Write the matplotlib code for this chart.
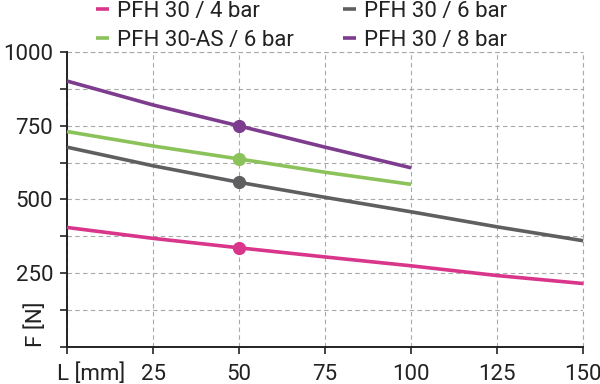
import matplotlib
matplotlib.use("Agg")
import matplotlib.pyplot as plt

plt.rcParams['font.family'] = ['Roboto', 'DejaVu Sans']

# ---- data ----
stroke = [0, 25, 50, 75, 100, 125, 150]
force_4bar = [405, 368, 336, 305, 275, 242, 215]
force_6bar = [677, 614, 558, 507, 458, 407, 360]
stroke_short = [0, 25, 50, 75, 100]
force_as_6bar = [730, 681, 637, 592, 551]
force_8bar = [901, 820, 749, 677, 607]
mark_x = 50

series = [
    ("PFH 30 / 4 bar", stroke, force_4bar, "#D8358B"),
    ("PFH 30-AS / 6 bar", stroke_short, force_as_6bar, "#8CC25A"),
    ("PFH 30 / 6 bar", stroke, force_6bar, "#5F5F61"),
    ("PFH 30 / 8 bar", stroke_short, force_8bar, "#7D3C8E"),
]

xticks = [0, 25, 50, 75, 100, 125, 150]
xlabels = ["", "25", "50", "75", "100", "125", "150"]
x_unit = "L [mm]"
yticks = [0, 125, 250, 375, 500, 625, 750, 875, 1000]
ylabels = ["", "", "250", "", "500", "", "750", "", "1000"]

FS = 16
TXT = "#222222"

fig = plt.figure(figsize=(6, 3.84), dpi=100)
ax = fig.add_axes([0.1117, 0.0964, 0.8603, 0.7686])

handles = []
for name, xs, ys, col in series:
    ln, = ax.plot(xs, ys, color=col, lw=2.6, solid_capstyle="butt",
                  clip_on=False, zorder=3, label=name)
    ax.plot([mark_x], [ys[xs.index(mark_x)]], "o", color=col, ms=8.5,
            clip_on=False, zorder=4)
    handles.append(ln)

ax.set_xlim(0, 150)
ax.set_ylim(0, 1000)
ax.set_xticks(xticks)
ax.set_xticklabels(xlabels, fontsize=FS)
ax.set_yticks(yticks)
ax.set_yticklabels(ylabels, fontsize=FS)

ax.tick_params(axis="both", direction="out", length=5, width=1.2,
               colors=TXT, labelcolor=TXT)
ax.tick_params(axis="x", pad=7)
ax.tick_params(axis="y", pad=5)

# "L [mm]" sits in place of the 0 label, starting a bit left of the origin
ax.annotate(x_unit, xy=(0, 0), xycoords=("data", "axes fraction"),
            xytext=(-7, -12), textcoords="offset points",
            ha="left", va="top", fontsize=FS, color=TXT)

for s in ["top", "right"]:
    ax.spines[s].set_visible(False)
for s in ["left", "bottom"]:
    ax.spines[s].set_linewidth(1.4)
    ax.spines[s].set_color(TXT)

gstyle = dict(color="#a8a8a8", linestyle=(0, (4, 3)), linewidth=0.8)
ax.grid(True, **gstyle)
ax.set_axisbelow(True)
# grid along the top and right borders
ax.axhline(1000, clip_on=False, zorder=0, **gstyle)
ax.axvline(150, clip_on=False, zorder=0, **gstyle)

ax.set_ylabel("F [N]", fontsize=FS, color=TXT)
ax.yaxis.set_label_coords(-0.038, 0.077)

leg = fig.legend(handles=handles, loc="upper left", bbox_to_anchor=(0.145, 1.021),
                 ncol=2, frameon=False, fontsize=FS, handlelength=0.6,
                 handletextpad=0.35, columnspacing=2.2, labelspacing=0.38,
                 borderaxespad=0)
for t in leg.get_texts():
    t.set_color(TXT)

plt.savefig("out.png", dpi=100)
